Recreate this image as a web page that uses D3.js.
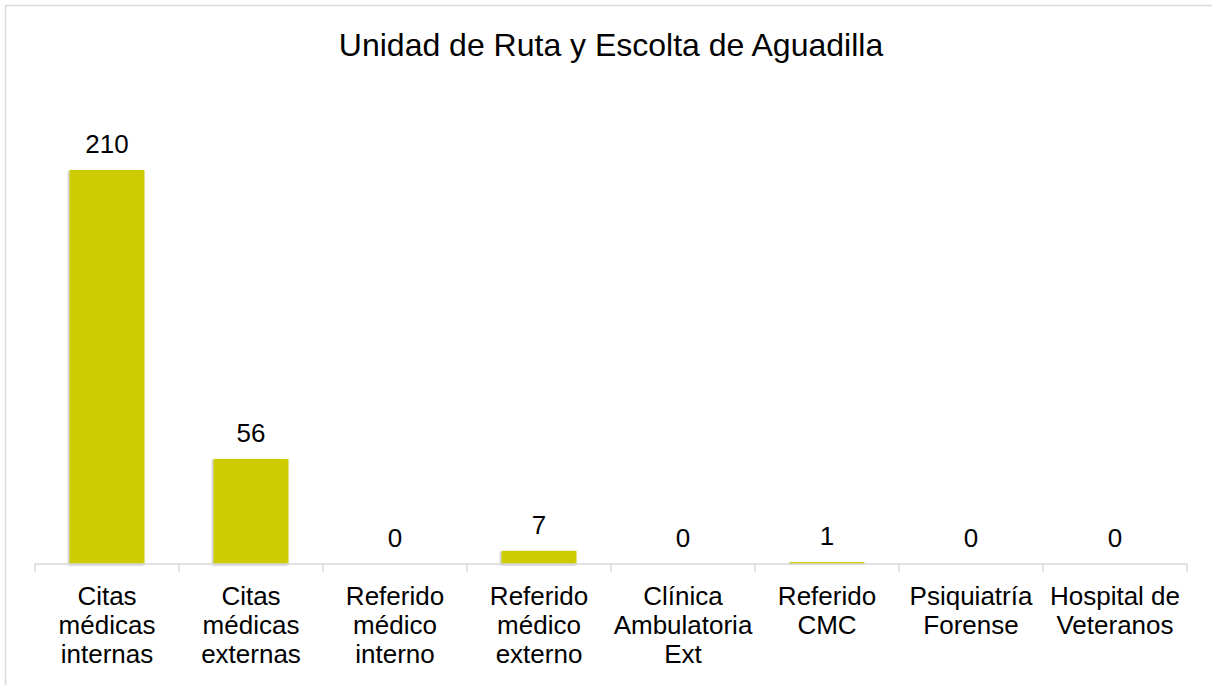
<!DOCTYPE html>
<html>
<head>
<meta charset="utf-8">
<script src="https://cdnjs.cloudflare.com/ajax/libs/d3/7.8.5/d3.min.js"></script>
<style>
  body { margin: 0; background: #fff; }
  svg { display: block; font-family: "Liberation Sans", Arial, sans-serif; }
</style>
</head>
<body>
<svg id="chart"></svg>
<script>
const categories = [
  ["Citas", "médicas", "internas"],
  ["Citas", "médicas", "externas"],
  ["Referido", "médico", "interno"],
  ["Referido", "médico", "externo"],
  ["Clínica", "Ambulatoria", "Ext"],
  ["Referido", "CMC"],
  ["Psiquiatría", "Forense"],
  ["Hospital de", "Veteranos"]
];
const values = [210, 56, 0, 7, 0, 1, 0, 0];
const title = "Unidad de Ruta y Escolta de Aguadilla";

const W = 1212, H = 685;
const margin = { top: 170, right: 25, bottom: 121, left: 35 };
const width = W - margin.left - margin.right;
const height = H - margin.top - margin.bottom;

const svg = d3.select("#chart").attr("width", W).attr("height", H);

// chart border (right and bottom fall off the picture)
svg.append("rect")
  .attr("x", 5.5).attr("y", 5.5)
  .attr("width", W + 10).attr("height", H + 10)
  .attr("fill", "#fff").attr("stroke", "#d9d9d9").attr("stroke-width", 1.5);

const defs = svg.append("defs");
const f = defs.append("filter").attr("id", "shadow")
  .attr("x", "-10%").attr("y", "-10%").attr("width", "120%").attr("height", "120%");
f.append("feDropShadow").attr("dx", -1).attr("dy", 1).attr("stdDeviation", 1)
  .attr("flood-color", "#000").attr("flood-opacity", 0.35);

svg.append("text")
  .attr("x", 611).attr("y", 56)
  .attr("text-anchor", "middle")
  .attr("font-size", 32)
  .attr("fill", "#000")
  .text(title);

const g = svg.append("g")
  .attr("transform", "translate(" + margin.left + "," + margin.top + ")");

const idx = d3.range(values.length);
const x = d3.scaleBand().domain(idx).range([0, width]).paddingInner(0.48).paddingOuter(0.24);
const y = d3.scaleLinear().domain([0, 210]).range([height, 0]);

g.selectAll("rect.bar")
  .data(idx)
  .enter()
  .append("rect")
  .attr("class", "bar")
  .attr("x", (i) => x(i))
  .attr("y", (i) => y(values[i]))
  .attr("width", x.bandwidth())
  .attr("height", (i) => height - y(values[i]))
  .attr("fill", "#cccc00")
  .attr("filter", "url(#shadow)");

g.selectAll("text.val")
  .data(idx)
  .enter()
  .append("text")
  .attr("class", "val")
  .attr("x", (i) => x(i) + x.bandwidth() / 2)
  .attr("y", (i) => y(values[i]) - 17)
  .attr("text-anchor", "middle")
  .attr("font-size", 26)
  .attr("fill", "#000")
  .text((i) => values[i]);

// axis with ticks between categories
const tickPos = d3.range(values.length + 1).map((k) => k * width / values.length);
const axis = g.append("g").attr("transform", "translate(0," + height + ")");
axis.append("line")
  .attr("x1", 0).attr("x2", width)
  .attr("stroke", "#d9d9d9").attr("stroke-width", 1.5);
axis.selectAll("line.tick")
  .data(tickPos)
  .enter()
  .append("line")
  .attr("class", "tick")
  .attr("x1", (d) => d).attr("x2", (d) => d)
  .attr("y1", 0).attr("y2", 8)
  .attr("stroke", "#d9d9d9").attr("stroke-width", 1.5);

const labels = axis.selectAll("text.cat")
  .data(idx)
  .enter()
  .append("text")
  .attr("class", "cat")
  .attr("text-anchor", "middle")
  .attr("font-size", 26)
  .attr("fill", "#000");
labels.selectAll("tspan")
  .data((i) => categories[i].map((t) => ({ t: t, i: i })))
  .enter()
  .append("tspan")
  .attr("x", (d) => x(d.i) + x.bandwidth() / 2)
  .attr("y", (d, k) => 41 + k * 29)
  .text((d) => d.t);
</script>
</body>
</html>
